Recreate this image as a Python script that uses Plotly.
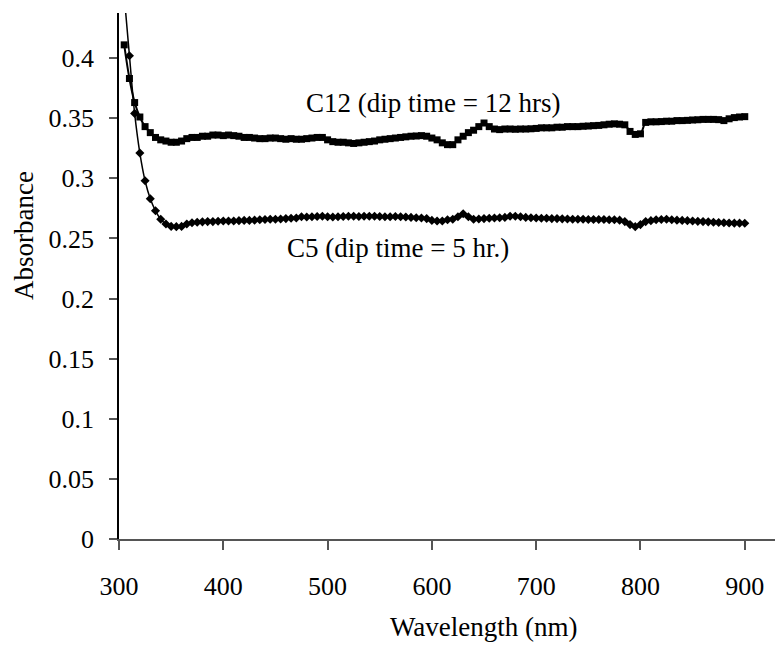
import plotly.graph_objects as go

wavelength = list(range(305, 905, 5))

c12 = [0.411, 0.383, 0.363, 0.351, 0.343, 0.338, 0.334, 0.332, 0.331, 0.330,
       0.330, 0.331, 0.333, 0.334, 0.334, 0.335, 0.335, 0.336, 0.336, 0.3355,
       0.336, 0.3355, 0.335, 0.334, 0.334, 0.3335, 0.333, 0.333, 0.3335, 0.3335,
       0.333, 0.3325, 0.333, 0.3325, 0.3325, 0.333, 0.3335, 0.334, 0.334, 0.332,
       0.3305, 0.330, 0.330, 0.3295, 0.329, 0.3295, 0.330, 0.3305, 0.331, 0.332,
       0.3325, 0.333, 0.3335, 0.334, 0.3345, 0.335, 0.3352, 0.3355, 0.335, 0.3335,
       0.332, 0.3295, 0.328, 0.328, 0.332, 0.335, 0.338, 0.340, 0.343, 0.346,
       0.343, 0.341, 0.3405, 0.341, 0.341, 0.3408, 0.341, 0.341, 0.3412, 0.3415,
       0.342, 0.342, 0.342, 0.3425, 0.3425, 0.343, 0.343, 0.343, 0.3433, 0.3435,
       0.3438, 0.344, 0.3445, 0.345, 0.3453, 0.345, 0.3445, 0.339, 0.3365, 0.337,
       0.3465, 0.347, 0.347, 0.3472, 0.3475, 0.3475, 0.348, 0.348, 0.3482, 0.3485,
       0.3487, 0.349, 0.349, 0.349, 0.3488, 0.348, 0.3495, 0.3505, 0.351, 0.3513]

c5 = [0.452, 0.402, 0.354, 0.321, 0.298, 0.283, 0.273, 0.266, 0.262, 0.260,
      0.2598, 0.260, 0.262, 0.263, 0.2635, 0.2638, 0.264, 0.264, 0.2643, 0.2645,
      0.2645, 0.2645, 0.2648, 0.265, 0.265, 0.2652, 0.2655, 0.2658, 0.266, 0.266,
      0.2662, 0.2665, 0.2668, 0.267, 0.268, 0.2678, 0.268, 0.2682, 0.2685, 0.268,
      0.2678, 0.268, 0.2682, 0.2685, 0.2685, 0.2683, 0.2685, 0.2685, 0.2685, 0.2683,
      0.268, 0.268, 0.2682, 0.268, 0.2678, 0.2675, 0.2672, 0.267, 0.2665, 0.265,
      0.2645, 0.2645, 0.2655, 0.266, 0.268, 0.2705, 0.268, 0.266, 0.2662, 0.2665,
      0.2668, 0.267, 0.2672, 0.2675, 0.2685, 0.2685, 0.268, 0.2675, 0.2672, 0.267,
      0.2668, 0.2668, 0.2665, 0.2665, 0.2663, 0.2662, 0.266, 0.266, 0.266, 0.2658,
      0.2658, 0.2657, 0.2657, 0.2655, 0.2655, 0.2652, 0.264, 0.2615, 0.2598, 0.2615,
      0.264, 0.2648, 0.2655, 0.2658, 0.266, 0.2655, 0.2652, 0.265, 0.2648, 0.2645,
      0.2642, 0.264, 0.2638, 0.2635, 0.2633, 0.263, 0.2628, 0.2627, 0.2627, 0.2626]

x_ticks = [300, 400, 500, 600, 700, 800, 900]
series_labels = ["C12 (dip time = 12 hrs)", "C5 (dip time = 5 hr.)"]
x_title = "Wavelength (nm)"
y_title = "Absorbance"

FONT = "Liberation Serif, serif"

fig = go.Figure()
fig.add_trace(go.Scatter(
    x=wavelength, y=c12, mode="lines+markers", name=series_labels[0],
    line=dict(color="black", width=2, shape="spline"),
    marker=dict(symbol="square", size=7, color="black"),
))
fig.add_trace(go.Scatter(
    x=wavelength, y=c5, mode="lines+markers", name=series_labels[1],
    line=dict(color="black", width=1.5, shape="spline"),
    marker=dict(symbol="diamond", size=7, color="black"),
))

fig.update_layout(
    width=775, height=652,
    margin=dict(l=119, r=0, t=13, b=113),
    paper_bgcolor="white", plot_bgcolor="white",
    showlegend=False,
    font=dict(family=FONT, size=26, color="black"),
    xaxis=dict(
        range=[300, 929], tickvals=x_ticks, ticks="outside", ticklen=9,
        tickcolor="#555", tickwidth=1.5, showline=True, linecolor="#555",
        linewidth=1.5, showgrid=False, zeroline=False,
        ticklabelstandoff=14,
        tickfont=dict(family=FONT, size=26, color="black"),
    ),
    yaxis=dict(
        range=[0, 0.4375], dtick=0.05, tick0=0, ticks="outside", ticklen=8,
        tickcolor="#555", tickwidth=1.5, showline=True, linecolor="black",
        linewidth=1.5, showgrid=False, zeroline=False,
        ticklabelstandoff=10,
        tickfont=dict(family=FONT, size=26, color="black"),
    ),
    annotations=[
        dict(x=600.6, y=0.3627, xref="x", yref="y", text=series_labels[0],
             showarrow=False, font=dict(family=FONT, size=27, color="black"),
             xanchor="center", yanchor="middle"),
        dict(x=567.5, y=0.2421, xref="x", yref="y", text=series_labels[1],
             showarrow=False, font=dict(family=FONT, size=27, color="black"),
             xanchor="center", yanchor="middle"),
        dict(x=650, y=-0.1673, xref="x", yref="paper", text=x_title,
             showarrow=False, font=dict(family=FONT, size=27, color="black"),
             xanchor="center", yanchor="middle"),
        dict(x=-0.1448, y=0.252, xref="paper", yref="y", text=y_title,
             textangle=-90, showarrow=False,
             font=dict(family=FONT, size=27, color="black"),
             xanchor="center", yanchor="middle"),
    ],
)

fig.write_html("out.html")
